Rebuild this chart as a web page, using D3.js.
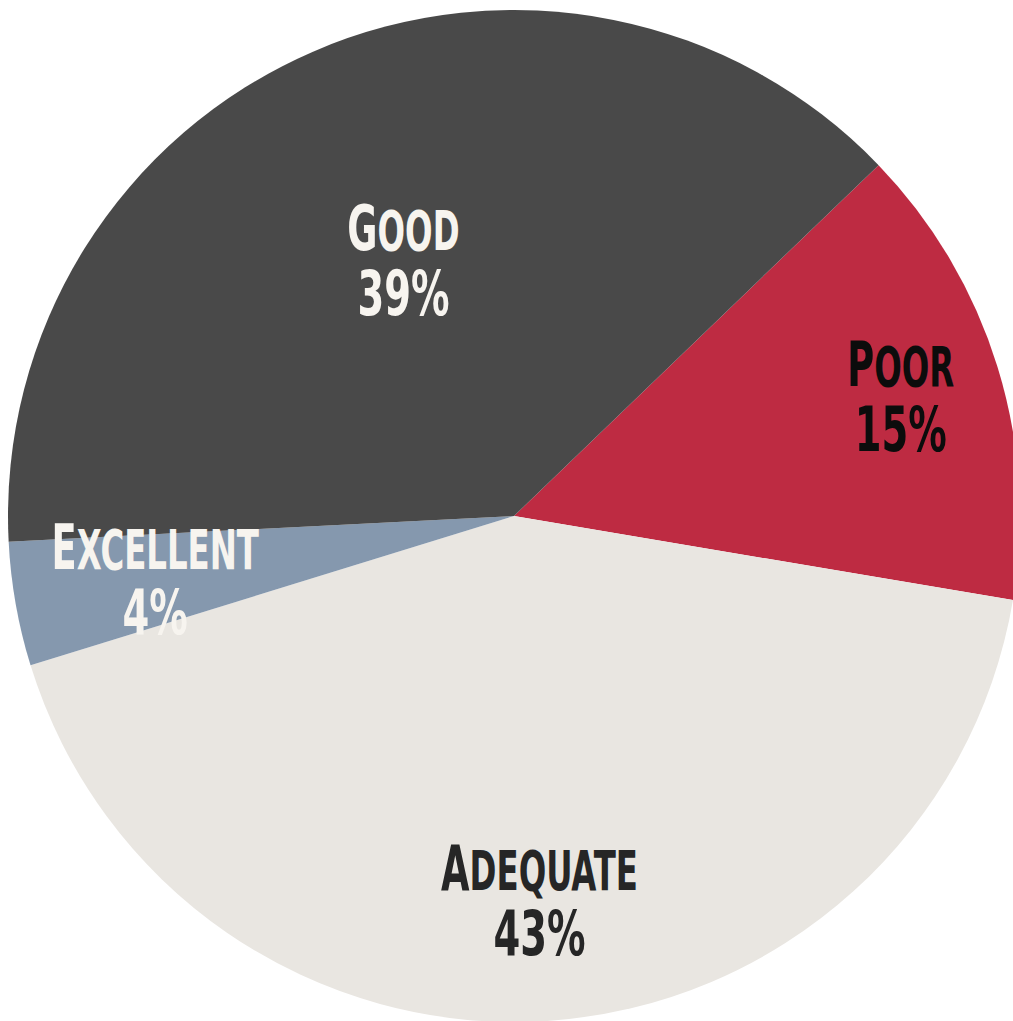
<!DOCTYPE html>
<html>
<head>
<meta charset="utf-8">
<script src="https://cdn.jsdelivr.net/npm/d3@7"></script>
<style>
  html, body { margin: 0; padding: 0; background: #ffffff; overflow: hidden; }
  svg { display: block; }
  .lbl { font-family: "DejaVu Sans Condensed", "Liberation Sans Narrow", sans-serif; font-weight: bold; }
</style>
</head>
<body>
<svg id="chart" width="1013" height="1021"></svg>
<script>
// Ratings, clockwise from the Poor slice
const categories = ["Poor", "Adequate", "Excellent", "Good"];
const percents = [15, 43, 4, 39];

// Appearance
const sliceColors = { Poor: "#be2b42", Adequate: "#e9e6e1", Excellent: "#8598ae", Good: "#494949" };
const textColors = { Poor: "#0c0c0c", Adequate: "#262626", Excellent: "#f7f4ef", Good: "#f7f4ef" };
const labelRadiusFrac = { Poor: 0.80, Adequate: 0.76, Excellent: 0.72, Good: 0.55 };

const width = 1013, height = 1021;
const cx = 514, cy = 516, radius = 506;
const startDeg = 46.1;
const fontSize = 62, smallCap = 0.88, lineGap = 65;
const nameSqueeze = 0.66, numSqueeze = 0.69;

const data = categories.map((c, i) => ({ name: c, value: percents[i] }));

const pie = d3.pie()
  .sort(null)
  .value(d => d.value)
  .startAngle(startDeg * Math.PI / 180)
  .endAngle(startDeg * Math.PI / 180 + 2 * Math.PI);

const arc = d3.arc().innerRadius(0).outerRadius(radius);

const svg = d3.select("#chart");
const g = svg.append("g").attr("transform", `translate(${cx},${cy})`);

const arcs = pie(data);

g.selectAll("path.slice")
  .data(arcs)
  .join("path")
  .attr("class", "slice")
  .attr("d", arc)
  .attr("fill", d => sliceColors[d.data.name]);

const labels = g.selectAll("g.lbl")
  .data(arcs)
  .join("g")
  .attr("class", "lbl")
  .attr("transform", d => {
    const r = radius * labelRadiusFrac[d.data.name];
    const a = (d.startAngle + d.endAngle) / 2;
    return `translate(${r * Math.sin(a)},${-r * Math.cos(a)})`;
  })
  .attr("fill", d => textColors[d.data.name]);

// Name line: first letter full size, the rest as small capitals
const nameText = labels.append("text")
  .attr("text-anchor", "middle")
  .attr("transform", `translate(0,${-lineGap / 2 + fontSize * 0.36}) scale(${nameSqueeze},1)`)
  .attr("font-size", fontSize);
nameText.append("tspan").text(d => d.data.name.charAt(0).toUpperCase());
nameText.append("tspan")
  .attr("font-size", fontSize * smallCap)
  .text(d => d.data.name.slice(1).toUpperCase());

// Percentage line
labels.append("text")
  .attr("text-anchor", "middle")
  .attr("transform", `translate(0,${lineGap / 2 + fontSize * 0.36}) scale(${numSqueeze},1)`)
  .attr("font-size", fontSize)
  .text(d => d.data.value + "%");
</script>
</body>
</html>
